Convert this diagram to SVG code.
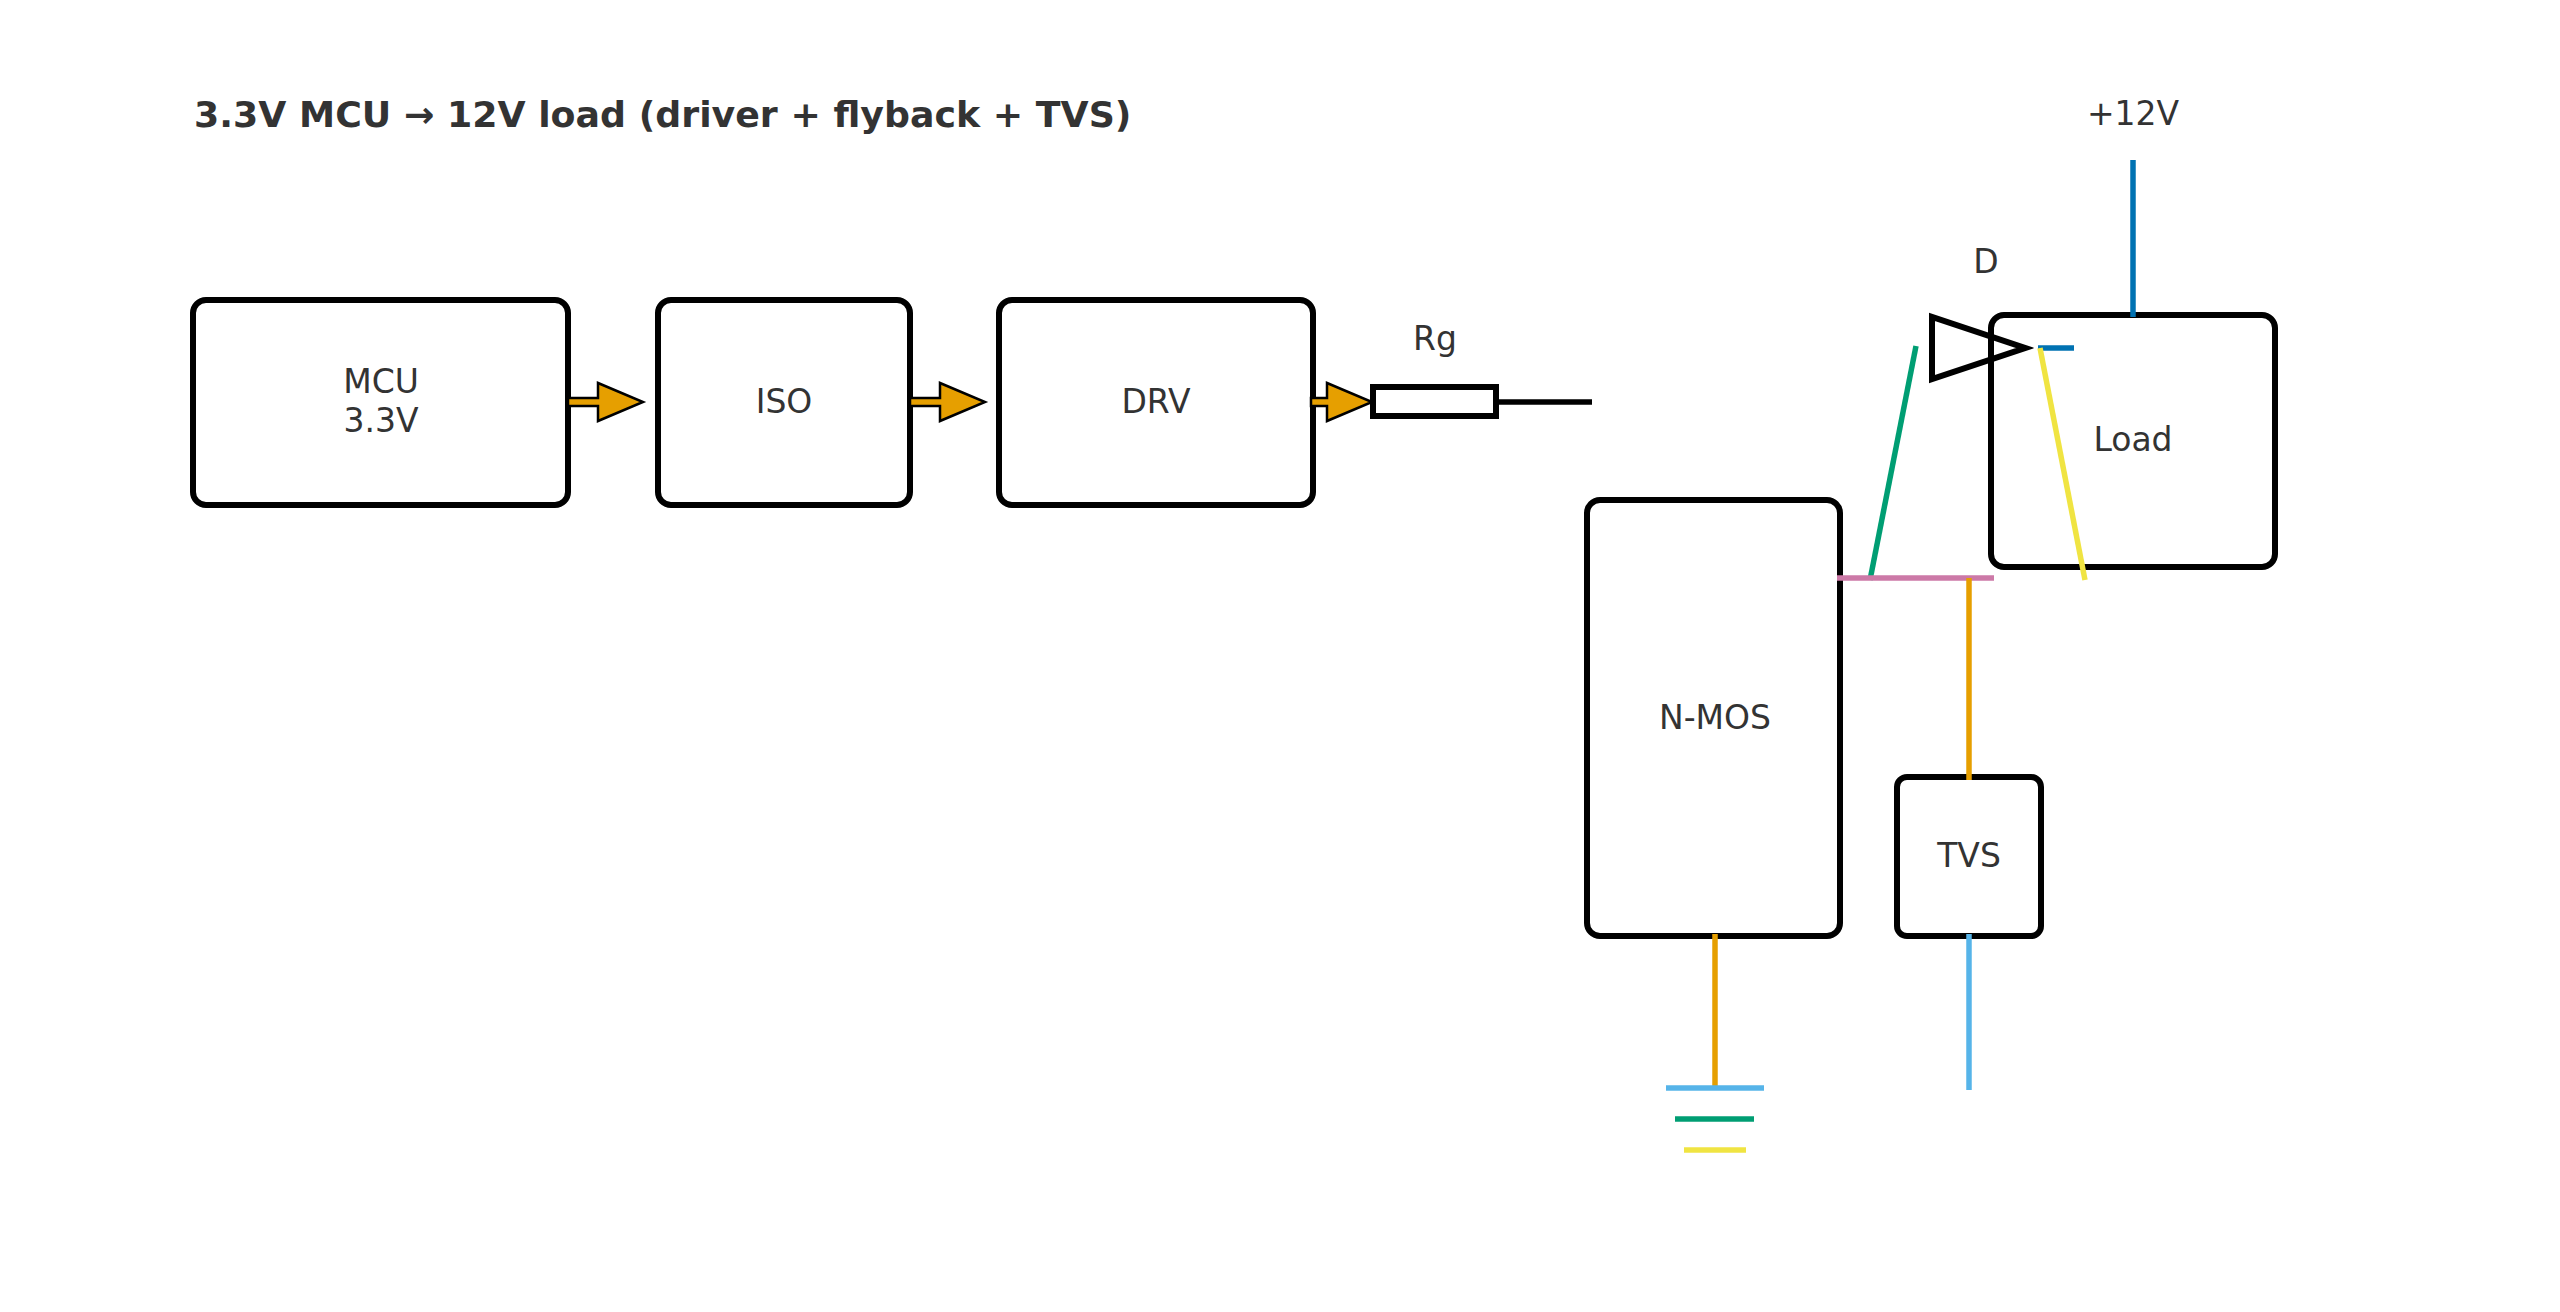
<svg xmlns="http://www.w3.org/2000/svg" width="2560" height="1312" viewBox="0 0 2560 1312">
<style>
.box{fill:#fff;stroke:#000;stroke-width:6}
.t{font-family:"DejaVu Sans",sans-serif;font-size:33px;fill:#333;text-anchor:middle}
.arr{fill:#E69F00;stroke:#000;stroke-width:2.5}
.w{stroke-width:5.5;fill:none}
</style>
<rect width="2560" height="1312" fill="#fff"/>
<text x="194" y="127" font-family="DejaVu Sans,sans-serif" font-size="36.3" font-weight="bold" fill="#333">3.3V MCU → 12V load (driver + flyback + TVS)</text>
<g id="mcu"><rect class="box" x="193" y="300" width="375" height="205" rx="13"/><text class="t" x="381" y="393">MCU</text><text class="t" x="381" y="432">3.3V</text></g>
<g id="iso"><rect class="box" x="658" y="300" width="252" height="205" rx="13"/><text class="t" x="784" y="413">ISO</text></g>
<g id="drv"><rect class="box" x="999" y="300" width="314" height="205" rx="13"/><text class="t" x="1156" y="413">DRV</text></g>
<g id="rg"><rect class="box" x="1373" y="387" width="123" height="29"/><text class="t" x="1435" y="350" font-size="30">Rg</text></g>
<g id="nmos"><rect class="box" x="1587" y="500" width="253" height="436" rx="13"/><text class="t" x="1715" y="729">N-MOS</text></g>
<g id="load"><rect class="box" x="1991" y="315" width="284" height="252" rx="13"/><text class="t" x="2133" y="451">Load</text></g>
<g id="tvs"><rect class="box" x="1897" y="777" width="144" height="159" rx="10"/><text class="t" x="1969" y="867" font-size="30">TVS</text></g>
<g id="diode"><polygon points="1932,317 1932,379 2025,348" fill="none" stroke="#000" stroke-width="6"/><text class="t" x="1986" y="273" font-size="30">D</text></g>
<g id="vcc"><text class="t" x="2133" y="125">+12V</text></g>
<g id="connectors">
<path class="arr" d="M568,398 H598 V383 L643,402 L598,421 V406 H568 Z"/>
<path class="arr" d="M910,398 H940 V383 L985,402 L940,421 V406 H910 Z"/>
<path class="arr" d="M1311,398 H1327 V383 L1372,402 L1327,421 V406 H1311 Z"/>
<line class="w" x1="1496" y1="402" x2="1592" y2="402" stroke="#000"/>
<line class="w" x1="2133" y1="160" x2="2133" y2="317" stroke="#0072B2"/>
<line class="w" x1="2038" y1="348" x2="2074" y2="348" stroke="#0072B2"/>
<line class="w" x1="1916" y1="346" x2="1870" y2="580" stroke="#009E73"/>
<line class="w" x1="2040" y1="348" x2="2085" y2="580" stroke="#F0E442"/>
<line class="w" x1="1837" y1="578" x2="1994" y2="578" stroke="#CC79A7"/>
<line class="w" x1="1969" y1="578" x2="1969" y2="780" stroke="#E69F00"/>
<line class="w" x1="1715" y1="934" x2="1715" y2="1088" stroke="#E69F00"/>
<line class="w" x1="1969" y1="934" x2="1969" y2="1090" stroke="#56B4E9"/>
<line class="w" x1="1666" y1="1088" x2="1764" y2="1088" stroke="#56B4E9"/>
<line class="w" x1="1675" y1="1119" x2="1754" y2="1119" stroke="#009E73"/>
<line class="w" x1="1684" y1="1150" x2="1746" y2="1150" stroke="#F0E442"/>
</g>
</svg>
